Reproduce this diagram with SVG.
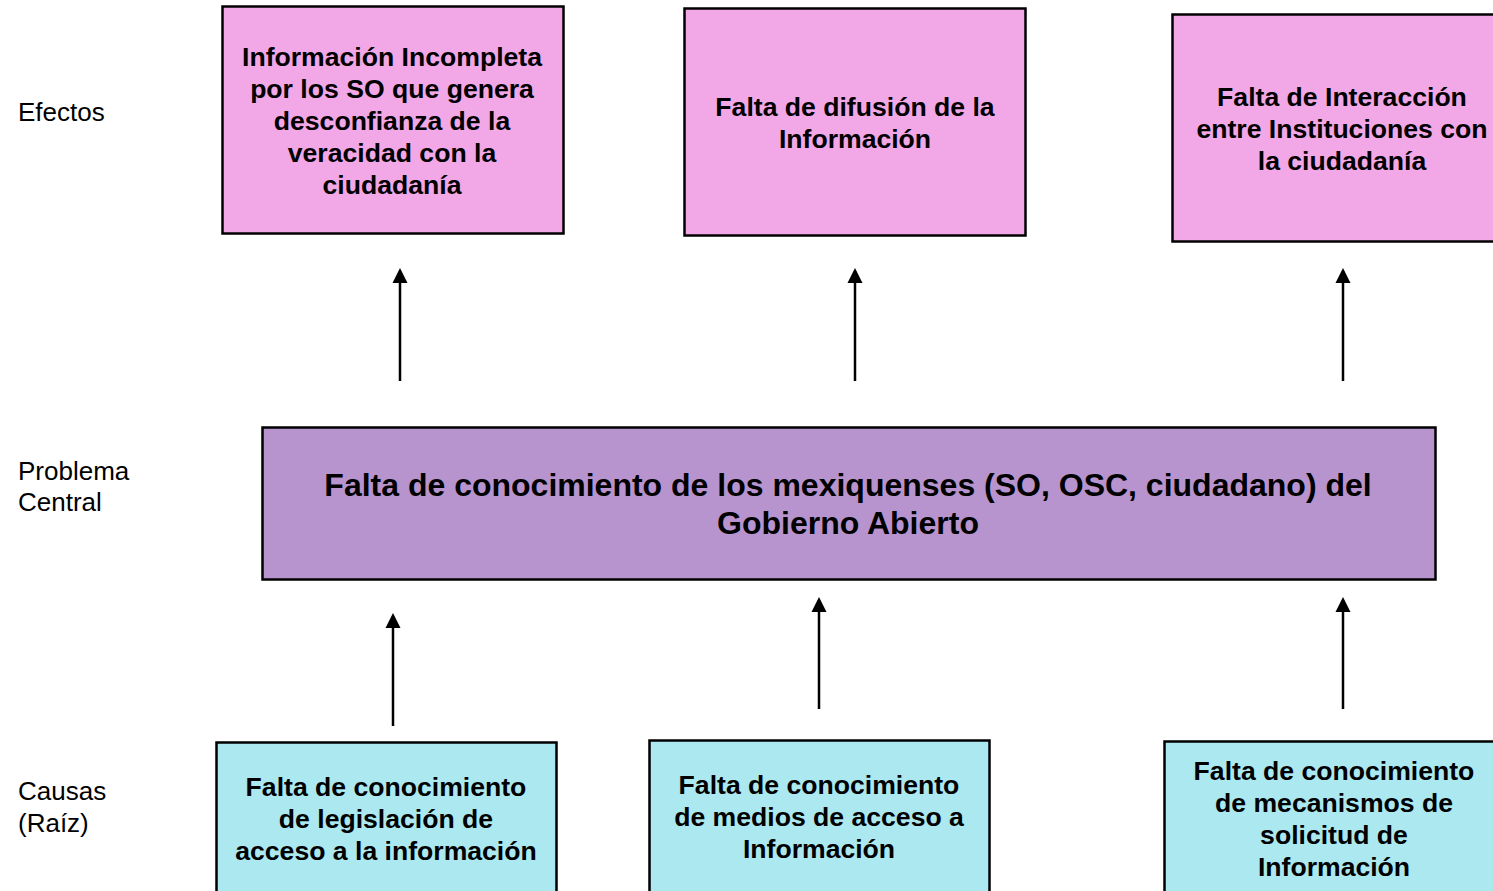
<svg xmlns="http://www.w3.org/2000/svg" width="1493" height="891" viewBox="0 0 1493 891">
<style>
.box{stroke:#000;stroke-width:2.5}
.eff{fill:#F2A7E6}
.cen{fill:#B794CE}
.cau{fill:#ABE8F0}
.t{font-family:"Liberation Sans",Arial,sans-serif;font-weight:bold;font-size:26.6px;fill:#000;text-anchor:middle}
.tc{font-family:"Liberation Sans",Arial,sans-serif;font-weight:bold;font-size:32px;fill:#000;text-anchor:middle}
.lbl{font-family:"Liberation Sans",Arial,sans-serif;font-size:26px;fill:#000}
.arr{stroke:#000;stroke-width:2.5;fill:none;marker-end:url(#ah)}
</style>
<defs>
<marker id="ah" viewBox="0 0 10 10" refX="8" refY="5" markerWidth="6" markerHeight="6.4" orient="auto" markerUnits="strokeWidth">
<path d="M0,0 L10,5 L0,10 z" fill="#000"/>
</marker>
</defs>
<rect width="1493" height="891" fill="#fff"/>
<g id="labels">
<text class="lbl" x="18" y="121">Efectos</text>
<text class="lbl" x="18" y="480">Problema</text>
<text class="lbl" x="18" y="511">Central</text>
<text class="lbl" x="18" y="800">Causas</text>
<text class="lbl" x="18" y="832">(Raíz)</text>
</g>
<g id="efecto1">
<rect class="box eff" x="222.5" y="6.5" width="341" height="227"/>
<text class="t" x="392" y="66">Información Incompleta</text>
<text class="t" x="392" y="98">por los SO que genera</text>
<text class="t" x="392" y="130">desconfianza de la</text>
<text class="t" x="392" y="162">veracidad con la</text>
<text class="t" x="392" y="194">ciudadanía</text>
</g>
<g id="efecto2">
<rect class="box eff" x="684.5" y="8.5" width="341" height="227"/>
<text class="t" x="855" y="116">Falta de difusión de la</text>
<text class="t" x="855" y="148">Información</text>
</g>
<g id="efecto3">
<rect class="box eff" x="1172.5" y="14.5" width="330" height="227"/>
<text class="t" x="1342" y="106">Falta de Interacción</text>
<text class="t" x="1342" y="138">entre Instituciones con</text>
<text class="t" x="1342" y="170">la ciudadanía</text>
</g>
<g id="problema">
<rect class="box cen" x="262.5" y="427.5" width="1173" height="152"/>
<text class="tc" x="848" y="496">Falta de conocimiento de los mexiquenses (SO, OSC, ciudadano) del</text>
<text class="tc" x="848" y="534">Gobierno Abierto</text>
</g>
<g id="causa1">
<rect class="box cau" x="216.5" y="742.5" width="340" height="160"/>
<text class="t" x="386" y="796">Falta de conocimiento</text>
<text class="t" x="386" y="828">de legislación de</text>
<text class="t" x="386" y="860">acceso a la información</text>
</g>
<g id="causa2">
<rect class="box cau" x="649.5" y="740.5" width="340" height="160"/>
<text class="t" x="819" y="794">Falta de conocimiento</text>
<text class="t" x="819" y="826">de medios de acceso a</text>
<text class="t" x="819" y="858">Información</text>
</g>
<g id="causa3">
<rect class="box cau" x="1164.5" y="741.5" width="340" height="160"/>
<text class="t" x="1334" y="780">Falta de conocimiento</text>
<text class="t" x="1334" y="812">de mecanismos de</text>
<text class="t" x="1334" y="844">solicitud de</text>
<text class="t" x="1334" y="876">Información</text>
</g>
<g id="connectors">
<line class="arr" x1="400" y1="381" x2="400" y2="271"/>
<line class="arr" x1="855" y1="381" x2="855" y2="271"/>
<line class="arr" x1="1343" y1="381" x2="1343" y2="271"/>
<line class="arr" x1="393" y1="726" x2="393" y2="616"/>
<line class="arr" x1="819" y1="709" x2="819" y2="600"/>
<line class="arr" x1="1343" y1="709" x2="1343" y2="600"/>
</g>
</svg>
